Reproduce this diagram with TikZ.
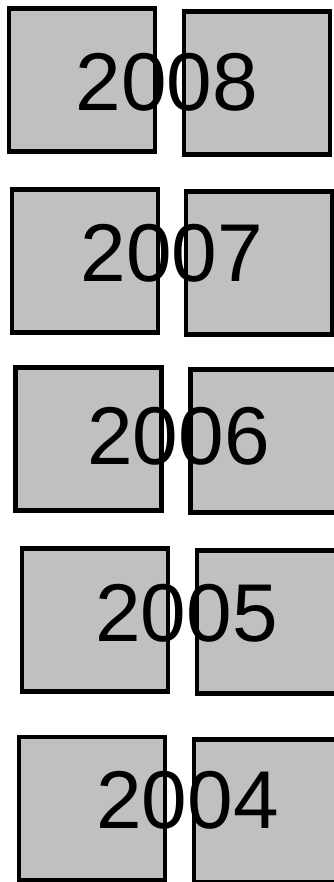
\documentclass[tikz,border=0pt]{standalone}
\usepackage{fontspec}
\setmainfont{Liberation Sans}
\usepackage{tikz}
\definecolor{BoxFill}{RGB}{192,192,192}
\tikzset{
  nd_box/.style={rectangle,draw=black,fill=BoxFill,line width=4.5pt,minimum width=146pt,minimum height=143pt,inner sep=0pt},
  nd_year/.style={inner sep=0pt,font=\fontsize{82}{82}\selectfont},
}

\begin{document}
\begin{tikzpicture}[x=1pt,y=-1pt]
\useasboundingbox (0,0) rectangle (334,882);
% 2008
\node[nd_box] at (82,80)(L8){};
\node[nd_box] at (257,83)(R8){};
\node[nd_year] at (167,82)(T8){2008};
% 2007
\node[nd_box] at (85,261)(L7){};
\node[nd_box] at (259,263)(R7){};
\node[nd_year] at (172,253)(T7){2007};
% 2006
\node[nd_box] at (88.5,439)(L6){};
\node[nd_box] at (263.5,441)(R6){};
\node[nd_year] at (178.5,436)(T6){2006};
% 2005
\node[nd_box] at (95,620)(L5){};
\node[nd_box] at (270,622)(R5){};
\node[nd_year] at (186.5,613)(T5){2005};
% 2004
\node[nd_box] at (92,808.5)(L4){};
\node[nd_box] at (267,811)(R4){};
\node[nd_year] at (187.5,800)(T4){2004};
\end{tikzpicture}
\end{document}
